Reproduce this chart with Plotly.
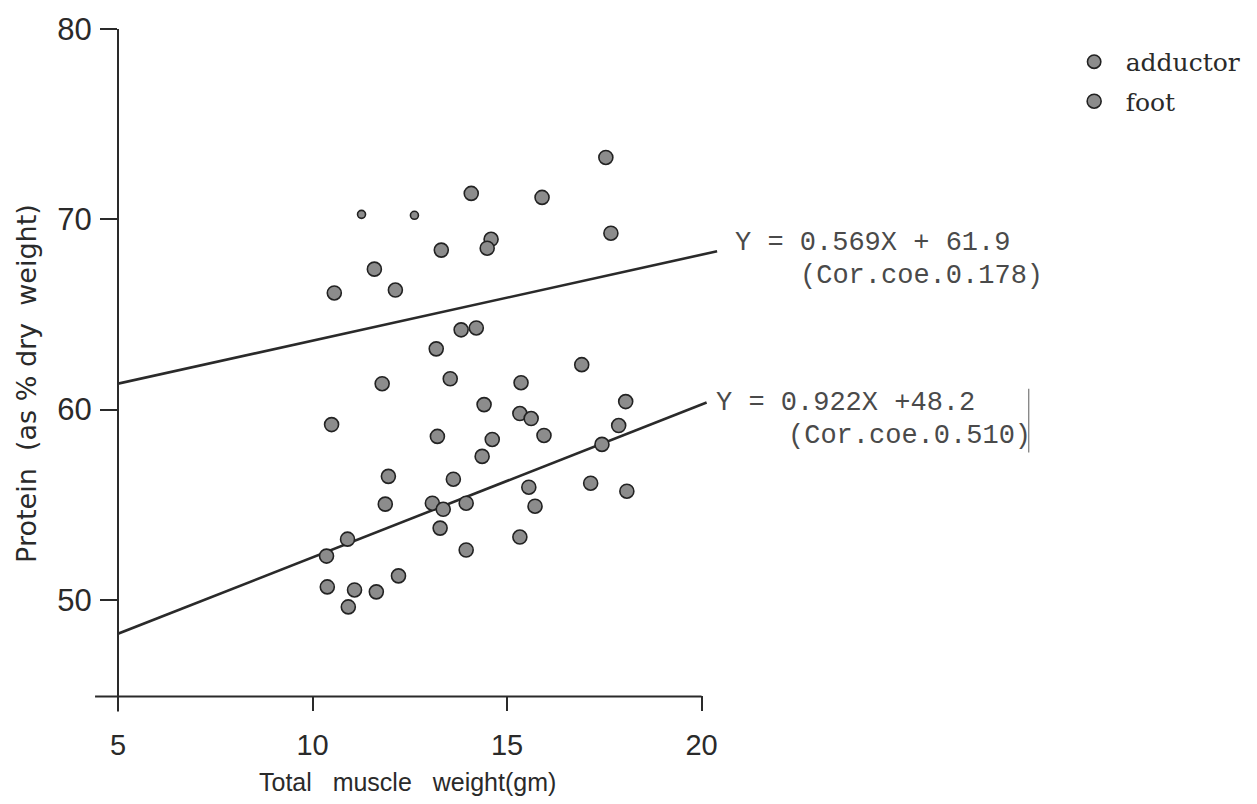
import plotly.graph_objects as go

# ---- data ----
adductor_x = [17.54, 14.08, 15.90, 11.26, 12.62, 17.67, 13.31, 14.59, 14.49, 11.59,
              10.56, 12.13, 13.82, 14.21, 13.18, 16.92, 11.79, 13.54, 15.36]
adductor_y = [73.25, 71.36, 71.15, 70.26, 70.21, 69.27, 68.38, 68.95, 68.48, 67.38,
              66.13, 66.28, 64.19, 64.29, 63.19, 62.36, 61.36, 61.62, 61.41]

foot_x = [18.05, 10.49, 14.41, 15.33, 15.62, 17.87, 13.21, 14.62, 15.95, 17.44,
          14.36, 11.95, 13.62, 15.56, 17.15, 18.08, 11.87, 13.08, 13.36, 13.95,
          15.72, 13.28, 10.90, 15.33, 10.36, 13.95, 12.21, 10.38, 11.08, 11.64, 10.92]
foot_y = [60.42, 59.21, 60.26, 59.79, 59.53, 59.16, 58.59, 58.43, 58.64, 58.17,
          57.54, 56.49, 56.34, 55.92, 56.13, 55.71, 55.03, 55.08, 54.76, 55.08,
          54.92, 53.77, 53.19, 53.30, 52.30, 52.62, 51.26, 50.68, 50.52, 50.42, 49.63]

line_upper_x = [5, 20.4]
line_upper_y = [61.36, 68.32]
line_lower_x = [5, 20.13]
line_lower_y = [48.22, 60.37]

eq_upper = ["Y = 0.569X + 61.9", "(Cor.coe.0.178)"]
eq_lower = ["Y = 0.922X +48.2", "(Cor.coe.0.510)"]

x_ticks = [5, 10, 15, 20]
y_ticks = [50, 60, 70, 80]
x_title = "Total   muscle   weight(gm)"
y_title = "Protein  (as % dry  weight)"
series_names = ["adductor", "foot"]

# ---- figure ----
sans = "Liberation Sans"
ink = "#2a2a2a"
mk_fill = "#8c8c8c"

# plot-area geometry in pixels (for paper-coordinate placement of text)
PX0, PW = 118, 604.5
PYB, PH = 695.5, 668.5


def px(xp):
    return (xp - PX0) / PW


def py(yp):
    return (PYB - yp) / PH


adductor_sizes = [14] * len(adductor_x)
adductor_sizes[3] = 8
adductor_sizes[4] = 8

fig = go.Figure()
fig.add_trace(go.Scatter(x=line_upper_x, y=line_upper_y, mode="lines",
                         line=dict(color=ink, width=2.6), showlegend=False, hoverinfo="skip"))
fig.add_trace(go.Scatter(x=line_lower_x, y=line_lower_y, mode="lines",
                         line=dict(color=ink, width=2.6), showlegend=False, hoverinfo="skip"))
fig.add_trace(go.Scatter(x=adductor_x, y=adductor_y, mode="markers", name=series_names[0],
                         legendgroup="a",
                         marker=dict(size=adductor_sizes, color=mk_fill, opacity=1,
                                     line=dict(color="#222", width=1.6))))
fig.add_trace(go.Scatter(x=foot_x, y=foot_y, mode="markers", name=series_names[1],
                         legendgroup="b",
                         marker=dict(size=14, color=mk_fill, opacity=1,
                                     line=dict(color="#222", width=1.6))))

mono = "Liberation Mono"
eq_color = "#4a4a4a"
annos = [
    dict(x=px(735), y=py(242), text=eq_upper[0]),
    dict(x=px(800), y=py(275), text=eq_upper[1]),
    dict(x=px(715), y=py(402), text=eq_lower[0]),
    dict(x=px(788), y=py(436), text=eq_lower[1]),
]
for a in annos:
    fig.add_annotation(xref="paper", yref="paper", showarrow=False,
                       xanchor="left", yanchor="middle",
                       font=dict(family=mono, size=27, color=eq_color), **a)

# axis titles
fig.add_annotation(xref="paper", yref="paper", x=px(408), y=py(783),
                   text=x_title, showarrow=False, xanchor="center", yanchor="middle",
                   font=dict(family=sans, size=25, color=ink))
fig.add_annotation(xref="paper", yref="paper", x=px(26), y=py(383),
                   text=y_title, showarrow=False, textangle=-90, xanchor="center", yanchor="middle",
                   font=dict(family="DejaVu Sans", size=27, color=ink))

# x-axis line (extends left of the y axis) and y axis (extends below the x axis)
fig.add_shape(type="line", xref="paper", yref="paper",
              x0=px(95), x1=px(703), y0=py(697), y1=py(697),
              line=dict(color=ink, width=2.2))
fig.add_shape(type="line", xref="paper", yref="paper",
              x0=0, x1=0, y0=py(712), y1=1,
              line=dict(color=ink, width=2))
# scanner bar near the lower equation
fig.add_shape(type="line", xref="paper", yref="paper",
              x0=px(1031), x1=px(1031), y0=py(452), y1=py(388),
              line=dict(color="#777", width=1.2))

fig.update_layout(
    width=1257, height=804,
    margin=dict(l=118, r=534.5, t=27, b=108.5),
    paper_bgcolor="white", plot_bgcolor="white",
    showlegend=True,
    legend=dict(x=px(1065), y=py(37), xanchor="left", yanchor="top",
                xref="paper", yref="paper",
                font=dict(family="DejaVu Serif", size=25, color="#2a2a2a"),
                traceorder="grouped", tracegroupgap=4, itemwidth=53,
                bgcolor="rgba(0,0,0,0)", borderwidth=0),
    xaxis=dict(range=[5, 20.5], tickvals=x_ticks, ticktext=[str(v) for v in x_ticks],
               showgrid=False, zeroline=False, showline=False,
               ticks="outside", ticklen=15, tickwidth=2, tickcolor=ink,
               ticklabelstandoff=9,
               tickfont=dict(family=sans, size=29, color=ink)),
    yaxis=dict(range=[45, 80], tickvals=y_ticks, ticktext=[str(v) for v in y_ticks],
               showgrid=False, zeroline=False, showline=False,
               ticks="outside", ticklen=17, tickwidth=2, tickcolor=ink,
               ticklabelstandoff=2,
               tickfont=dict(family=sans, size=31, color=ink)),
)

fig.write_html("out.html")
